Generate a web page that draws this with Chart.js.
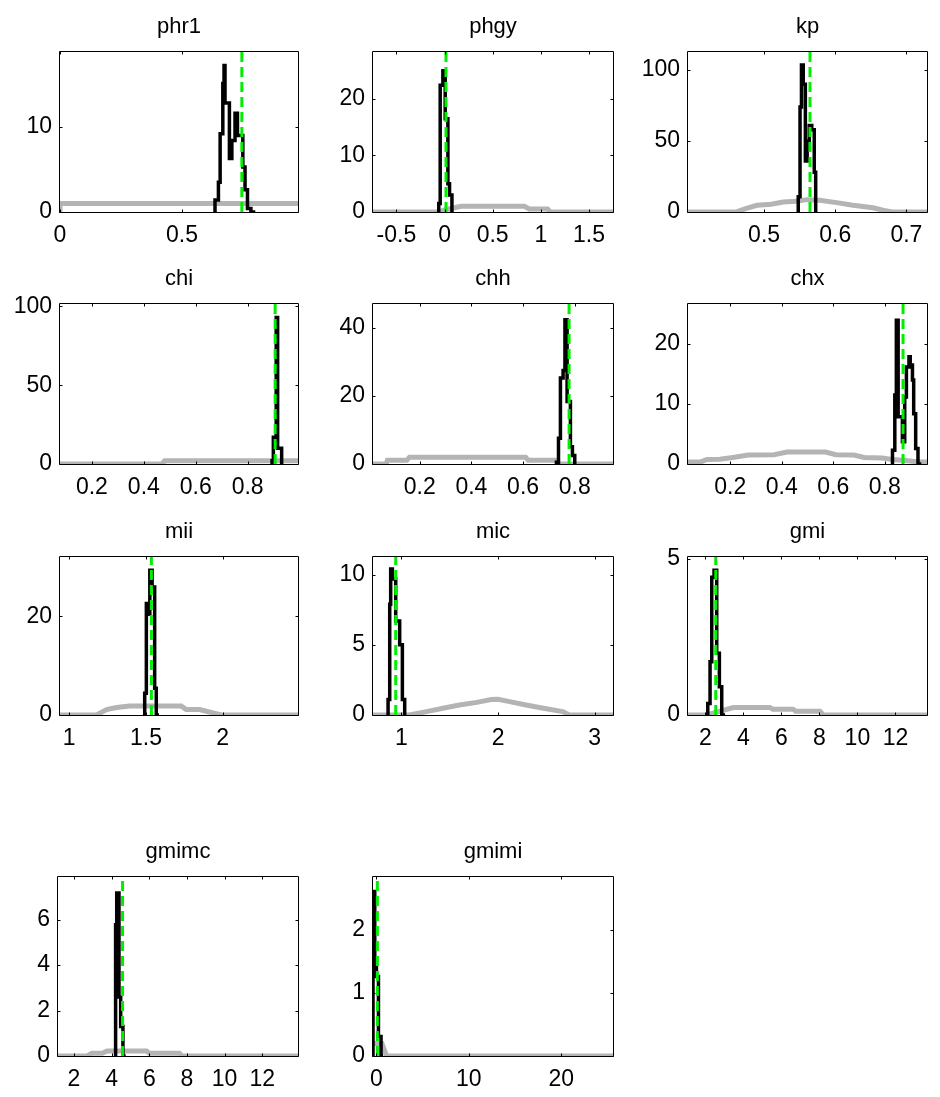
<!DOCTYPE html>
<html><head><meta charset="utf-8">
<script src="https://cdn.jsdelivr.net/npm/chart.js@4.4.1/dist/chart.umd.min.js"></script>
<style>
html,body{margin:0;padding:0;background:#fff;}
body{width:940px;height:1097px;position:relative;overflow:hidden;}
.p{position:absolute;}
canvas{display:block;}
</style></head><body>
<script>
// ---------------- data ----------------
const names = ['phr1','phgy','kp','chi','chh','chx','mii','mic','gmi','gmimc','gmimi'];
const modes = [0.745, 0.015, 0.5645, 0.906, 0.778, 0.871, 1.535, 0.941, 2.55, 4.58, 0.1];
const xMins = [0, -0.743, 0.393, 0.077, 0.019, 0.036, 0.94, 0.706, 1.09, 1.15, -0.37];
const xMaxs = [0.975, 1.75, 0.729, 0.994, 0.948, 0.964, 2.49, 3.19, 13.66, 13.9, 25.6];
const yMaxs = [18.8, 28.3, 112.7, 101.5, 47.1, 26.7, 32, 11.26, 5.05, 7.88, 2.84];
const xTicks = [[0,0.5],[-0.5,0,0.5,1,1.5],[0.5,0.6,0.7],[0.2,0.4,0.6,0.8],[0.2,0.4,0.6,0.8],[0.2,0.4,0.6,0.8],
                [1,1.5,2],[1,2,3],[2,4,6,8,10,12],[2,4,6,8,10,12],[0,10,20]];
const yTicks = [[0,10],[0,10,20],[0,50,100],[0,50,100],[0,20,40],[0,10,20],[0,20],[0,5,10],[0,5],[0,2,4,6],[0,1,2]];

// prior densities (grey)
const phr1PriorX = [0, 0, 1];
const phr1PriorY = [0, 1, 1];
const phgyPriorX = [-0.75, -0.06, 0.0, 0.17, 0.83, 0.88, 1.07, 1.1, 1.8];
const phgyPriorY = [0, 0, 0.35, 1.0, 1.0, 0.55, 0.55, 0, 0];
const kpPriorX = [0.39, 0.46, 0.475, 0.49, 0.51, 0.527, 0.545, 0.56, 0.578, 0.602, 0.625, 0.653, 0.667, 0.68, 0.73];
const kpPriorY = [0, 0, 2.5, 4.7, 5.5, 7, 7.5, 8.7, 8.2, 6.6, 4.7, 3, 1.2, 0, 0];
const chiPriorX = [0.07, 0.47, 0.48, 1.0];
const chiPriorY = [0, 0, 2, 2];
const chhPriorX = [0.01, 0.07, 0.075, 0.15, 0.16, 0.61, 0.62, 0.73, 0.74, 0.95];
const chhPriorY = [0, 0, 1.1, 1.1, 2.0, 2.0, 1.1, 1.1, 0, 0];
const chxPriorX = [0.03, 0.085, 0.11, 0.16, 0.21, 0.27, 0.37, 0.42, 0.57, 0.61, 0.68, 0.72, 0.79, 0.83, 0.88, 0.93, 0.97];
const chxPriorY = [0.35, 0.35, 0.75, 0.8, 1.1, 1.5, 1.55, 2.0, 2.0, 1.55, 1.5, 1.1, 1.0, 0.75, 0.6, 0.35, 0.35];
const miiPriorX = [0.93, 1.178, 1.243, 1.308, 1.394, 1.73, 1.762, 1.849, 1.99, 2.5];
const miiPriorY = [0, 0, 1.1, 1.5, 1.8, 1.8, 1.1, 1.1, 0, 0];
const micPriorX = [0.7, 1.08, 1.26, 1.43, 1.6, 1.78, 1.93, 2.0, 2.12, 2.29, 2.47, 2.67, 2.74, 3.2];
const micPriorY = [0, 0, 0.24, 0.48, 0.71, 0.9, 1.1, 1.12, 0.95, 0.71, 0.48, 0.24, 0, 0];
const gmiPriorX = [1.0, 2.08, 3.47, 5.4, 5.55, 6.62, 6.75, 8.03, 8.2, 13.7];
const gmiPriorY = [0, 0, 0.24, 0.24, 0.18, 0.18, 0.12, 0.12, 0, 0];
const gmimcPriorX = [1.1, 2.7, 2.95, 3.5, 3.75, 5.85, 6.0, 7.6, 7.75, 14];
const gmimcPriorY = [0, 0, 0.12, 0.12, 0.22, 0.22, 0.12, 0.12, 0, 0];
const gmimiPriorX = [-0.4, 0.6, 1.1, 26];
const gmimiPriorY = [0.2, 0.2, 0, 0];

// posterior histograms (black) : bin left edges and heights
const phr1PostX = [0.635, 0.649, 0.656, 0.667, 0.672, 0.676, 0.694, 0.704, 0.717, 0.727, 0.749, 0.758, 0.768, 0.782, 0.800];
const phr1PostY = [0, 1.4, 3.5, 9.2, 15.1, 17.2, 12.8, 6.3, 8.4, 11.6, 9.0, 5.3, 2.6, 0.4, 0];
const phgyPostX = [-0.06, -0.045, -0.017, 0.007, 0.035, 0.052, 0.077, 0.093];
const phgyPostY = [0, 1.5, 22.4, 25, 16.5, 5, 3, 0];
const kpPostX = [0.548, 0.5505, 0.5525, 0.555, 0.558, 0.5605, 0.5635, 0.567, 0.5705, 0.5725, 0.575];
const kpPostY = [0, 10.8, 74, 103.5, 90, 36, 50, 61, 58, 28, 0];
const chiPostX = [0.894, 0.899, 0.904, 0.910, 0.9155, 0.931, 0.935];
const chiPostY = [0, 2, 17, 17, 93, 10, 0];
const chhPostX = [0.729, 0.737, 0.7445, 0.7548, 0.762, 0.7703, 0.7832, 0.791, 0.800, 0.8065];
const chhPostY = [0, 0.5, 7.6, 25.3, 27.5, 42.5, 18.4, 5.1, 2.5, 0];
const chxPostX = [0.830, 0.839, 0.845, 0.852, 0.8685, 0.8775, 0.884, 0.894, 0.899, 0.9075, 0.9123, 0.920, 0.929, 0.942];
const chxPostY = [0, 2.3, 11.5, 24.0, 7.9, 3.7, 11.2, 16.2, 17.9, 16.5, 14, 8.4, 2.6, 0];
const miiPostX = [1.4916, 1.5024, 1.5132, 1.525, 1.54, 1.5565, 1.567, 1.5846];
const miiPostY = [0, 4.4, 22.6, 20.4, 29.3, 25.9, 5.4, 0];
const micPostX = [0.862, 0.879, 0.889, 0.9066, 0.941, 0.982, 1.01, 1.034, 1.051];
const micPostY = [0, 1.1, 7.9, 10.4, 9.7, 6.7, 5.0, 1.1, 0];
const gmiPostX = [2.13, 2.25, 2.34, 2.46, 2.60, 2.74, 2.864, 3.04];
const gmiPostY = [0, 0.37, 1.7, 4.4, 4.63, 1.97, 0.9, 0];
const gmimcPostX = [4.21, 4.27, 4.39, 4.48, 4.60, 4.744];
const gmimcPostY = [0, 5.78, 7.18, 2.6, 1.3, 0];
const gmimiPostX = [-0.37, -0.18, 0.0, 0.22, 0.5, 0.72];
const gmimiPostY = [0, 2.61, 1.47, 1.26, 0.31, 0];

const priorXs = [phr1PriorX, phgyPriorX, kpPriorX, chiPriorX, chhPriorX, chxPriorX, miiPriorX, micPriorX, gmiPriorX, gmimcPriorX, gmimiPriorX];
const priorYs = [phr1PriorY, phgyPriorY, kpPriorY, chiPriorY, chhPriorY, chxPriorY, miiPriorY, micPriorY, gmiPriorY, gmimcPriorY, gmimiPriorY];
const postXs = [phr1PostX, phgyPostX, kpPostX, chiPostX, chhPostX, chxPostX, miiPostX, micPostX, gmiPostX, gmimcPostX, gmimiPostX];
const postYs = [phr1PostY, phgyPostY, kpPostY, chiPostY, chhPostY, chxPostY, miiPostY, micPostY, gmiPostY, gmimcPostY, gmimiPostY];

// ---------------- layout ----------------
const POS = [[60,52,238,160],[373,52,240,160],[688,52,239,160],
             [60,304,238,160],[373,304,240,160],[688,304,239,160],
             [60,557,238,158],[373,557,240,158],[688,557,239,158],
             [58,877,240,179],[373,877,240,179]];
const FONT = "'Liberation Sans', Arial, sans-serif";
const L = 62, T = 52, R = 12, B = 42;

const boxPlugin = {
  id: 'box',
  afterDatasetsDraw(chart) {
    const {ctx, chartArea: a, scales: {x, y}} = chart;
    ctx.save();
    ctx.strokeStyle = '#000';
    ctx.lineWidth = 1;
    const l = Math.round(a.left) - 0.5, r = Math.round(a.right) + 0.5;
    const t = Math.round(a.top) - 0.5, b = Math.round(a.bottom) + 0.5;
    ctx.beginPath();
    ctx.rect(l, t, r - l, b - t);
    const tl = 3;
    x.ticks.forEach(tk => {
      const px = Math.round(x.getPixelForValue(tk.value)) + 0.5;
      ctx.moveTo(px, b); ctx.lineTo(px, b - tl);
      ctx.moveTo(px, t); ctx.lineTo(px, t + tl);
    });
    y.ticks.forEach(tk => {
      const py = Math.round(y.getPixelForValue(tk.value)) + 0.5;
      ctx.moveTo(l, py); ctx.lineTo(l + tl, py);
      ctx.moveTo(r, py); ctx.lineTo(r - tl, py);
    });
    ctx.stroke();
    ctx.restore();
  }
};

function pts(xs, ys) { return xs.map((v, k) => ({x: v, y: ys[k]})); }

function makeChart(i) {
  const [pl, pt, pw, ph] = POS[i];
  const div = document.createElement('div');
  div.className = 'p';
  div.style.left = (pl - L) + 'px';
  div.style.top = (pt - T) + 'px';
  const cv = document.createElement('canvas');
  const W = L + pw + R, H = T + ph + B;
  cv.width = W; cv.height = H;
  cv.style.width = W + 'px'; cv.style.height = H + 'px';
  div.appendChild(cv);
  document.body.appendChild(div);
  new Chart(cv, {
    type: 'scatter',
    data: {datasets: [
      {label: 'mode', data: [{x: modes[i], y: 0}, {x: modes[i], y: yMaxs[i]}], showLine: true,
       borderColor: '#00ee00', borderWidth: 3, borderDash: [10, 5], pointRadius: 0, order: 0},
      {label: 'posterior', data: pts(postXs[i], postYs[i]), showLine: true, stepped: 'after',
       borderColor: '#000000', borderWidth: 3.5, pointRadius: 0, order: 1},
      {label: 'prior', data: pts(priorXs[i], priorYs[i]), showLine: true,
       borderColor: '#b4b4b4', borderWidth: 5, pointRadius: 0, order: 2}
    ]},
    options: {
      responsive: false, animation: false, devicePixelRatio: 1,
      layout: {padding: {left: 0, right: R, top: 0, bottom: 0}},
      plugins: {
        legend: {display: false}, tooltip: {enabled: false},
        title: {display: true, text: names[i], color: '#000', fullSize: false,
                font: {family: FONT, size: 22, weight: 'normal', lineHeight: 1.2},
                padding: {top: T - 26.4 - 12, bottom: 12}}
      },
      scales: {
        x: {type: 'linear', min: xMins[i], max: xMaxs[i],
            grid: {display: false, drawTicks: false}, border: {display: false},
            ticks: {color: '#000', font: {family: FONT, size: 23}, padding: 10, autoSkip: false,
                    maxRotation: 0, minRotation: 0, callback: v => String(v)},
            afterBuildTicks: s => { s.ticks = xTicks[i].map(v => ({value: v})); },
            afterFit: s => { s.height = B; s.paddingLeft = 0; s.paddingRight = 0; }},
        y: {type: 'linear', min: 0, max: yMaxs[i],
            grid: {display: false, drawTicks: false}, border: {display: false},
            ticks: {color: '#000', font: {family: FONT, size: 23}, padding: 8, autoSkip: false,
                    callback: v => String(v)},
            afterBuildTicks: s => { s.ticks = yTicks[i].map(v => ({value: v})); },
            afterFit: s => { s.width = L; s.paddingTop = 0; s.paddingBottom = 0; }}
      }
    },
    plugins: [boxPlugin]
  });
}
for (let i = 0; i < names.length; i++) makeChart(i);
</script>
</body></html>
